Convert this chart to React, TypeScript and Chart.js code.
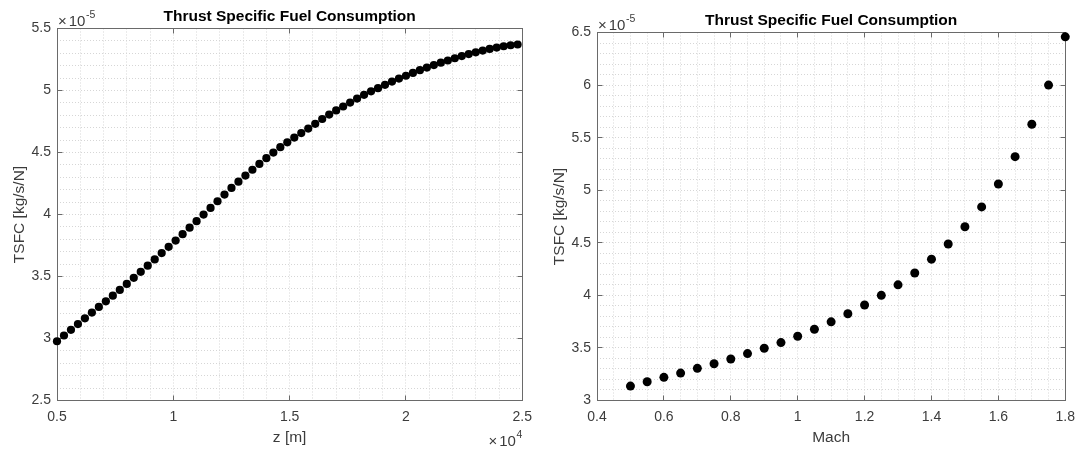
import React, { useEffect, useRef } from "react";
import { Chart, registerables } from "chart.js";

Chart.register(...registerables);

// ---------- Left panel: TSFC vs altitude ----------
const altitudeM = [
  5000, 5300, 5600, 5900, 6200, 6500, 6800, 7100, 7400, 7700, 8000, 8300, 8600, 8900, 9200, 9500, 9800,
  10100, 10400, 10700, 11000, 11300, 11600, 11900, 12200, 12500, 12800, 13100, 13400, 13700, 14000,
  14300, 14600, 14900, 15200, 15500, 15800, 16100, 16400, 16700, 17000, 17300, 17600, 17900, 18200,
  18500, 18800, 19100, 19400, 19700, 20000, 20300, 20600, 20900, 21200, 21500, 21800, 22100, 22400,
  22700, 23000, 23300, 23600, 23900, 24200, 24500, 24800,
];
// TSFC in units of 1e-5 kg/s/N
const tsfcVsAltitude = [
  2.978, 3.024, 3.07, 3.116, 3.163, 3.209, 3.255, 3.3, 3.345, 3.392, 3.44, 3.489, 3.538, 3.587, 3.638,
  3.689, 3.739, 3.79, 3.841, 3.894, 3.946, 3.999, 4.053, 4.107, 4.161, 4.214, 4.265, 4.314, 4.361,
  4.408, 4.454, 4.499, 4.543, 4.582, 4.62, 4.657, 4.693, 4.731, 4.77, 4.806, 4.839, 4.871, 4.903,
  4.935, 4.965, 4.993, 5.019, 5.046, 5.072, 5.096, 5.119, 5.142, 5.164, 5.185, 5.205, 5.224, 5.242,
  5.26, 5.278, 5.294, 5.308, 5.322, 5.335, 5.346, 5.357, 5.365, 5.371,
];
const altitudeTickValues = [5000, 10000, 15000, 20000, 25000];
const altitudeTickLabels = ["0.5", "1", "1.5", "2", "2.5"];
const tsfcLeftTickValues = [2.5, 3, 3.5, 4, 4.5, 5, 5.5];
const tsfcLeftTickLabels = ["2.5", "3", "3.5", "4", "4.5", "5", "5.5"];

// ---------- Right panel: TSFC vs Mach ----------
const machNumbers = [
  0.5, 0.55, 0.6, 0.65, 0.7, 0.75, 0.8, 0.85, 0.9, 0.95, 1, 1.05, 1.1, 1.15, 1.2, 1.25, 1.3, 1.35, 1.4,
  1.45, 1.5, 1.55, 1.6, 1.65, 1.7, 1.75, 1.8,
];
const tsfcVsMach = [
  3.137, 3.178, 3.22, 3.261, 3.306, 3.35, 3.395, 3.446, 3.497, 3.551, 3.611, 3.678, 3.748, 3.825,
  3.908, 4.0, 4.1, 4.213, 4.344, 4.488, 4.653, 4.841, 5.059, 5.319, 5.627, 6.0, 6.459,
];
const machTickValues = [0.4, 0.6, 0.8, 1, 1.2, 1.4, 1.6, 1.8];
const machTickLabels = ["0.4", "0.6", "0.8", "1", "1.2", "1.4", "1.6", "1.8"];
const tsfcRightTickValues = [3, 3.5, 4, 4.5, 5, 5.5, 6, 6.5];
const tsfcRightTickLabels = ["3", "3.5", "4", "4.5", "5", "5.5", "6", "6.5"];

const TITLE = "Thrust Specific Fuel Consumption";
const FONT = "'Liberation Sans', Arial, Helvetica, sans-serif";
const TEXT = "#3c3c3c";
const AXIS = "#6a6a6a";
const GRID = "#d6d6d6";
const H = 452;

type Spec = {
  xs: number[];
  ys: number[];
  xMin: number;
  xMax: number;
  xStep: number;
  xMajors: number[];
  xLabels: string[];
  yMin: number;
  yMax: number;
  yStep: number;
  yMajors: number[];
  yLabels: string[];
  xTitle: string;
  yTitle: string;
  titlePad: { top: number; bottom: number };
  rightPad: number;
  radius: number;
  xExponent: string | null;
};

function gridSteps(min: number, max: number, step: number): number[] {
  const out: number[] = [];
  const n = Math.round((max - min) / step);
  for (let k = 0; k <= n; k++) out.push(Math.round((min + k * step) * 1e6) / 1e6);
  return out;
}

function labelFor(v: number, majors: number[], labels: string[]): string {
  const i = majors.findIndex((m) => Math.abs(m - v) < 1e-6 * Math.max(1, Math.abs(m)));
  return i >= 0 ? labels[i] : "";
}

function makeConfig(spec: Spec): any {
  const xGrid = gridSteps(spec.xMin, spec.xMax, spec.xStep);
  const yGrid = gridSteps(spec.yMin, spec.yMax, spec.yStep);
  const px = (v: number) => Math.floor(v) + 0.5;

  const framePlugin = {
    id: "frame",
    beforeDatasetsDraw(chart: any) {
      const { ctx, chartArea: a, scales } = chart;
      const l = px(a.left), r = px(a.right), t = px(a.top), b = px(a.bottom);
      ctx.save();
      ctx.strokeStyle = AXIS;
      ctx.lineWidth = 1;
      ctx.setLineDash([]);
      ctx.strokeRect(l, t, r - l, b - t);
      ctx.beginPath();
      spec.xMajors.forEach((v) => {
        const x = px(scales.x.getPixelForValue(v));
        ctx.moveTo(x, b);
        ctx.lineTo(x, b - 5);
        ctx.moveTo(x, t);
        ctx.lineTo(x, t + 5);
      });
      spec.yMajors.forEach((v) => {
        const y = px(scales.y.getPixelForValue(v));
        ctx.moveTo(l, y);
        ctx.lineTo(l + 5, y);
        ctx.moveTo(r, y);
        ctx.lineTo(r - 5, y);
      });
      ctx.stroke();
      ctx.restore();
    },
    afterDraw(chart: any) {
      const { ctx, chartArea: a } = chart;
      ctx.save();
      ctx.fillStyle = TEXT;
      ctx.textBaseline = "middle";
      const times = "\u00d7";
      // y exponent
      ctx.font = `15px ${FONT}`;
      ctx.textAlign = "left";
      ctx.fillText(times, a.left + 1, a.top - 7);
      const wt = ctx.measureText(times).width;
      ctx.fillText("10", a.left + 1 + wt + 2, a.top - 7);
      const w10 = ctx.measureText("10").width;
      ctx.font = `10.5px ${FONT}`;
      ctx.fillText("-5", a.left + 1 + wt + 2 + w10 + 0.5, a.top - 13.5);
      // x exponent
      if (spec.xExponent) {
        ctx.font = `10.5px ${FONT}`;
        ctx.textAlign = "right";
        ctx.fillText(spec.xExponent, a.right, a.bottom + 34.5);
        const we = ctx.measureText(spec.xExponent).width;
        ctx.font = `15px ${FONT}`;
        ctx.fillText("10", a.right - we - 0.5, a.bottom + 41);
        const w2 = ctx.measureText("10").width;
        ctx.fillText(times, a.right - we - 0.5 - w2 - 2, a.bottom + 41);
      }
      ctx.restore();
    },
  };

  return {
    type: "scatter",
    data: {
      datasets: [
        {
          data: spec.xs.map((x, i) => ({ x, y: spec.ys[i] })),
          backgroundColor: "#000",
          borderColor: "#000",
          pointRadius: spec.radius,
          pointHoverRadius: spec.radius,
          pointBorderWidth: 0,
          showLine: false,
          clip: false,
        },
      ],
    },
    options: {
      animation: false,
      responsive: false,
      maintainAspectRatio: false,
      events: [],
      layout: { padding: { left: 0, top: 0, right: spec.rightPad, bottom: 0 } },
      plugins: {
        legend: { display: false },
        tooltip: { enabled: false },
        title: {
          display: true,
          text: TITLE,
          fullSize: false,
          color: "#000",
          font: { family: FONT, size: 15.5, weight: "bold", lineHeight: 1.2 },
          padding: spec.titlePad,
        },
      },
      scales: {
        x: {
          type: "linear",
          min: spec.xMin,
          max: spec.xMax,
          afterBuildTicks: (s: any) => {
            s.ticks = xGrid.map((v) => ({ value: v }));
          },
          afterFit: (s: any) => {
            s.height = 51.5;
          },
          grid: { color: GRID, lineWidth: 1, drawTicks: false },
          border: { display: false, dash: [1, 2] },
          ticks: {
            autoSkip: false,
            maxRotation: 0,
            padding: 8,
            color: TEXT,
            font: { family: FONT, size: 14 },
            callback: (v: number) => labelFor(v, spec.xMajors, spec.xLabels),
          },
          title: {
            display: true,
            text: spec.xTitle,
            color: TEXT,
            font: { family: FONT, size: 15.5, lineHeight: 1.2 },
            padding: { top: 0, bottom: 5 },
          },
        },
        y: {
          type: "linear",
          min: spec.yMin,
          max: spec.yMax,
          afterBuildTicks: (s: any) => {
            s.ticks = yGrid.map((v) => ({ value: v }));
          },
          afterFit: (s: any) => {
            s.width = 57;
          },
          grid: { color: GRID, lineWidth: 1, drawTicks: false },
          border: { display: false, dash: [1, 2] },
          ticks: {
            autoSkip: false,
            padding: 6,
            color: TEXT,
            font: { family: FONT, size: 14 },
            callback: (v: number) => labelFor(v, spec.yMajors, spec.yLabels),
          },
          title: {
            display: true,
            text: spec.yTitle,
            color: TEXT,
            font: { family: FONT, size: 15.5, lineHeight: 1.2 },
            padding: { top: 10, bottom: 0 },
          },
        },
      },
    },
    plugins: [framePlugin],
  };
}

const leftSpec: Spec = {
  xs: altitudeM,
  ys: tsfcVsAltitude,
  xMin: 5000,
  xMax: 25000,
  xStep: 1000,
  xMajors: altitudeTickValues,
  xLabels: altitudeTickLabels,
  yMin: 2.5,
  yMax: 5.5,
  yStep: 0.1,
  yMajors: tsfcLeftTickValues,
  yLabels: tsfcLeftTickLabels,
  xTitle: "z [m]",
  yTitle: "TSFC [kg/s/N]",
  titlePad: { top: 7.2, bottom: 2.7 },
  rightPad: 13,
  radius: 4.1,
  xExponent: "4",
};

const rightSpec: Spec = {
  xs: machNumbers,
  ys: tsfcVsMach,
  xMin: 0.4,
  xMax: 1.8,
  xStep: 0.05,
  xMajors: machTickValues,
  xLabels: machTickLabels,
  yMin: 3,
  yMax: 6.5,
  yStep: 0.1,
  yMajors: tsfcRightTickValues,
  yLabels: tsfcRightTickLabels,
  xTitle: "Mach",
  yTitle: "TSFC [kg/s/N]",
  titlePad: { top: 11.5, bottom: 2.4 },
  rightPad: 17,
  radius: 4.5,
  xExponent: null,
};

function Panel({ spec, left, width }: { spec: Spec; left: number; width: number }) {
  const ref = useRef<HTMLCanvasElement>(null);
  useEffect(() => {
    const chart = new Chart(ref.current as HTMLCanvasElement, makeConfig(spec));
    return () => chart.destroy();
  }, [spec]);
  return (
    <canvas
      ref={ref}
      width={width}
      height={H}
      style={{ position: "absolute", left, top: 0, width, height: H, display: "block" }}
    />
  );
}

export default function App() {
  return (
    <div
      style={{
        position: "fixed",
        left: 0,
        top: 0,
        width: 1083,
        height: H,
        background: "#fff",
        overflow: "hidden",
      }}
    >
      <Panel spec={leftSpec} left={0} width={540} />
      <Panel spec={rightSpec} left={540} width={543} />
    </div>
  );
}
